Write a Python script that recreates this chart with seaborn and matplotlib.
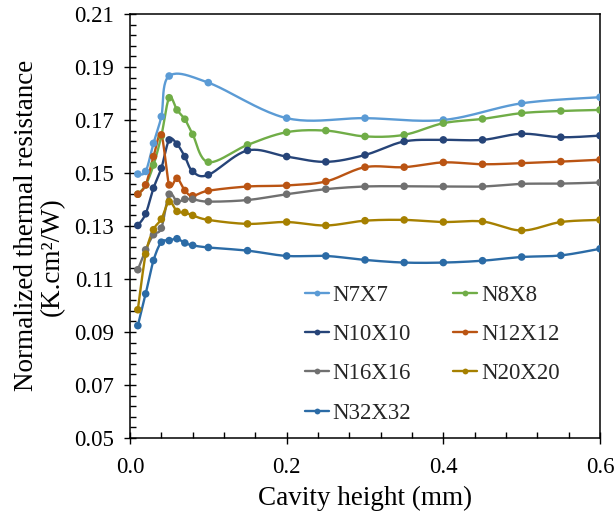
import numpy as np
import pandas as pd
import matplotlib
matplotlib.use("Agg")
import matplotlib.pyplot as plt
from matplotlib.lines import Line2D
from matplotlib.ticker import MultipleLocator, FixedLocator, FormatStrFormatter
import seaborn as sns

# Cavity heights (mm)
height = [0.01, 0.02, 0.03, 0.04, 0.05, 0.06, 0.07, 0.08, 0.10, 0.15,
          0.20, 0.25, 0.30, 0.35, 0.40, 0.45, 0.50, 0.55, 0.60]
height_n7 = [0.01, 0.02, 0.03, 0.04, 0.05, 0.10, 0.20, 0.30, 0.40, 0.50, 0.60]

# Normalized thermal resistance (K.cm2/W)
n7 = [0.1496, 0.1506, 0.1612, 0.1713, 0.1866, 0.1841, 0.1707, 0.1707, 0.1700, 0.1763, 0.1786]
n8 = [0.1420, 0.1455, 0.1530, 0.1640, 0.1784, 0.1738, 0.1703, 0.1646, 0.1541, 0.1606,
      0.1654, 0.1660, 0.1638, 0.1644, 0.1688, 0.1704, 0.1726, 0.1734, 0.1738]
n10 = [0.1302, 0.1346, 0.1443, 0.1518, 0.1625, 0.1609, 0.1562, 0.1506, 0.1493, 0.1585,
       0.1562, 0.1542, 0.1568, 0.1619, 0.1625, 0.1625, 0.1648, 0.1635, 0.1641]
n12 = [0.1420, 0.1455, 0.1562, 0.1644, 0.1455, 0.1480, 0.1434, 0.1414, 0.1433, 0.1449,
       0.1453, 0.1468, 0.1522, 0.1522, 0.1540, 0.1533, 0.1537, 0.1543, 0.1550]
n16 = [0.1135, 0.1210, 0.1267, 0.1292, 0.1420, 0.1392, 0.1401, 0.1401, 0.1392, 0.1398,
       0.1420, 0.1439, 0.1449, 0.1450, 0.1449, 0.1449, 0.1459, 0.1460, 0.1464]
n20 = [0.0984, 0.1194, 0.1286, 0.1326, 0.1392, 0.1355, 0.1351, 0.1340, 0.1323, 0.1308,
       0.1315, 0.1302, 0.1320, 0.1323, 0.1315, 0.1317, 0.1283, 0.1315, 0.1323]
n32 = [0.0924, 0.1044, 0.1170, 0.1239, 0.1245, 0.1252, 0.1236, 0.1227, 0.1219, 0.1207,
       0.1187, 0.1187, 0.1172, 0.1162, 0.1162, 0.1169, 0.1183, 0.1189, 0.1214]

labels = ["N7X7", "N8X8", "N10X10", "N12X12", "N16X16", "N20X20", "N32X32"]
colors = ["#5B9BD5", "#70AD47", "#264478", "#BA5413", "#707070", "#A68000", "#2B6BA6"]
series = [(height_n7, n7), (height, n8), (height, n10), (height, n12),
          (height, n16), (height, n20), (height, n32)]

y_ticks = [0.05, 0.07, 0.09, 0.11, 0.13, 0.15, 0.17, 0.19, 0.21]
x_ticks = [0.0, 0.2, 0.4, 0.6]


def smooth_curve(x, y, steps=24):
    """Bezier smoothing through every point (control points from neighbours)."""
    sx, sy = 783.0, 2650.0  # roughly isotropic scaling of the two axes
    p = np.column_stack([np.asarray(x) * sx, np.asarray(y) * sy])
    n = len(p)
    t = np.linspace(0, 1, steps)[:, None]
    out = [p[:1]]
    for i in range(n - 1):
        p0 = p[max(i - 1, 0)]
        p1 = p[i]
        p2 = p[i + 1]
        p3 = p[min(i + 2, n - 1)]
        c1 = p1 + (p2 - p0) / 6.0
        c2 = p2 - (p3 - p1) / 6.0
        seg = ((1 - t) ** 3) * p1 + 3 * ((1 - t) ** 2) * t * c1 + 3 * (1 - t) * t ** 2 * c2 + t ** 3 * p2
        out.append(seg[1:])
    q = np.vstack(out)
    return q[:, 0] / sx, q[:, 1] / sy


sns.set_theme(style="ticks")
plt.rcParams["font.family"] = ["Liberation Serif", "DejaVu Serif"]
plt.rcParams["axes.linewidth"] = 1.1

fig = plt.figure(figsize=(6.14, 5.17), dpi=100)
ax = fig.add_axes([130 / 614, 1 - 438 / 517, 470 / 614, 424 / 517])

for (xs, ys), lab, col in zip(series, labels, colors):
    cx, cy = smooth_curve(xs, ys)
    curve = pd.DataFrame({"h": cx, "r": cy})
    pts = pd.DataFrame({"h": xs, "r": ys})
    sns.lineplot(data=curve, x="h", y="r", sort=False, estimator=None,
                 color=col, linewidth=1.7, ax=ax, legend=False)
    sns.scatterplot(data=pts, x="h", y="r", color=col, s=30, edgecolor="none",
                    ax=ax, legend=False, zorder=3)

ax.set_xlim(x_ticks[0], x_ticks[-1])
ax.set_ylim(y_ticks[0], y_ticks[-1])
ax.xaxis.set_major_locator(FixedLocator(x_ticks))
ax.xaxis.set_minor_locator(MultipleLocator(0.04))
ax.yaxis.set_major_locator(FixedLocator(y_ticks))
ax.yaxis.set_minor_locator(FixedLocator(np.arange(0.054, 0.2095, 0.004)))
ax.xaxis.set_major_formatter(FormatStrFormatter("%.1f"))
ax.yaxis.set_major_formatter(FormatStrFormatter("%.2f"))

for s in ax.spines.values():
    s.set_color("black")
    s.set_linewidth(1.1)

ax.tick_params(axis="both", which="major", direction="inout", length=9, width=1.0,
               labelsize=16.5, colors="black")
ax.tick_params(axis="both", which="minor", direction="in", length=4, width=1.0, colors="black")
ax.tick_params(axis="y", which="major", pad=7)
ax.tick_params(axis="x", which="major", pad=9)

ax.set_xlabel("Cavity height (mm)", fontsize=19.5, color="black", labelpad=6)
ax.set_ylabel("Normalized thermal resistance", fontsize=19.5, color="black")
ax.yaxis.set_label_coords(-0.194, 0.502)
ax.text(-0.166, 0.427, "(K.cm²/W)", transform=ax.transAxes, rotation=90,
        ha="center", va="center", rotation_mode="anchor", fontsize=19.5, color="black")

handles = [Line2D([0], [0], color=c, lw=1.7, marker="o", markersize=4.2, markeredgewidth=0)
           for c in colors]
order = [0, 2, 4, 6, 1, 3, 5]
ax.legend([handles[i] for i in order], [labels[i] for i in order], ncol=2,
          frameon=False, fontsize=16.5, loc="upper left",
          bbox_to_anchor=(0.372, 0.362), handlelength=1.05, handletextpad=0.15,
          columnspacing=1.85, labelspacing=0.8, borderaxespad=0, borderpad=0)

fig.savefig("out.png", dpi=100)
